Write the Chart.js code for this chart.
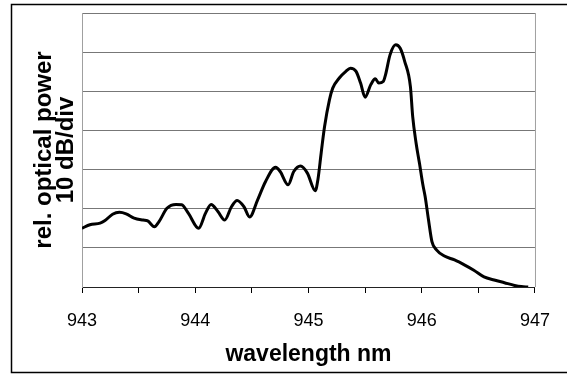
<!DOCTYPE html>
<html>
<head>
<meta charset="utf-8">
<script src="https://cdn.jsdelivr.net/npm/chart.js@4"></script>
<style>
  html, body { margin: 0; padding: 0; background: #fff; }
  #wrap { width: 567px; height: 374px; }
</style>
</head>
<body>
<div id="wrap"><canvas id="mainChart" width="567" height="374"></canvas></div>
<script>
const wavelength = [943.00, 943.07, 943.16, 943.20, 943.27, 943.33, 943.39, 943.46, 943.54, 943.58,
    943.64, 943.68, 943.75, 943.83, 943.88, 943.94, 944.03, 944.09, 944.14, 944.20,
    944.26, 944.32, 944.37, 944.43, 944.48, 944.55, 944.62, 944.71, 944.75, 944.82,
    944.87, 944.93, 944.99, 945.06, 945.083, 945.113, 945.142, 945.185, 945.214, 945.272,
    945.33, 945.37, 945.42, 945.46, 945.50, 945.55, 945.59, 945.62, 945.66, 945.68,
    945.72, 945.77, 945.81, 945.85, 945.90, 945.92, 945.95, 945.98, 946.01, 946.03,
    946.06, 946.09, 946.13, 946.20, 946.29, 946.38, 946.46, 946.55, 946.64, 946.73,
    946.82, 946.88, 946.94];
const power = [1.50, 1.59, 1.63, 1.69, 1.86, 1.91, 1.87, 1.76, 1.71, 1.69,
    1.54, 1.67, 2.01, 2.11, 2.10, 1.88, 1.50, 1.88, 2.11, 1.93,
    1.71, 2.05, 2.21, 2.05, 1.79, 2.22, 2.69, 3.06, 2.95, 2.61,
    2.95, 3.09, 2.91, 2.46, 2.74, 3.45, 4.10, 4.78, 5.08, 5.34,
    5.51, 5.59, 5.51, 5.21, 4.85, 5.17, 5.32, 5.21, 5.25, 5.42,
    5.93, 6.19, 6.10, 5.76, 5.12, 4.36, 3.68, 3.16, 2.61, 2.31,
    1.71, 1.16, 0.95, 0.79, 0.69, 0.56, 0.43, 0.26, 0.18, 0.11,
    0.04, 0.01, 0.00];
const xLabels = [943, 944, 945, 946, 947];

// gray right edge of the plot and the black frame round the picture
const framePlugin = {
    id: 'frame',
    afterDraw(chart) {
        const c = chart.ctx;
        const a = chart.chartArea;
        c.save();
        c.strokeStyle = '#a0a0a0';
        c.lineWidth = 1;
        c.beginPath();
        c.moveTo(a.right + 0.5, a.top);
        c.lineTo(a.right + 0.5, a.bottom);
        c.stroke();
        c.strokeStyle = '#000';
        c.lineWidth = 1.5;
        c.beginPath();
        c.moveTo(567, 4.5);
        c.lineTo(11.5, 4.5);
        c.lineTo(11.5, 372.5);
        c.lineTo(567, 372.5);
        c.stroke();
        c.restore();
    }
};

new Chart(document.getElementById('mainChart'), {
    type: 'line',
    data: {
        datasets: [{
            data: wavelength.map((w, i) => ({ x: w, y: power[i] })),
            borderColor: '#000',
            borderWidth: 3,
            pointRadius: 0,
            fill: false,
            cubicInterpolationMode: 'monotone'
        }]
    },
    options: {
        responsive: false,
        animation: false,
        layout: { padding: { left: 0, right: 25, top: 13, bottom: 0 } },
        plugins: {
            legend: { display: false },
            tooltip: { enabled: false }
        },
        scales: {
            x: {
                type: 'linear',
                min: 943,
                max: 947,
                afterFit: (s) => { s.height = 87; },
                ticks: {
                    stepSize: 0.5,
                    autoSkip: false,
                    maxRotation: 0,
                    padding: 17,
                    color: '#000',
                    font: { family: 'Liberation Sans, Arial', size: 18 },
                    callback: (v) => xLabels.includes(v) ? String(v) : ''
                },
                grid: {
                    drawOnChartArea: false,
                    drawTicks: true,
                    tickLength: 6,
                    color: '#000'
                },
                border: { color: '#222', width: 1 },
                title: {
                    display: true,
                    text: 'wavelength nm',
                    color: '#000',
                    padding: { top: 0, bottom: 5.5 },
                    font: { family: 'Liberation Sans, Arial', size: 23, weight: 'bold' }
                }
            },
            y: {
                min: 0,
                max: 7,
                afterFit: (s) => { s.width = 82; },
                ticks: { display: false, stepSize: 1 },
                grid: { color: '#777', drawTicks: false },
                border: { color: '#a0a0a0', width: 1 },
                title: {
                    display: true,
                    text: ['rel. optical power', '10 dB/div'],
                    color: '#000',
                    padding: { top: 33, bottom: 0 },
                    font: { family: 'Liberation Sans, Arial', size: 24, weight: 'bold', lineHeight: 0.92 }
                }
            }
        }
    },
    plugins: [framePlugin]
});
</script>
</body>
</html>
